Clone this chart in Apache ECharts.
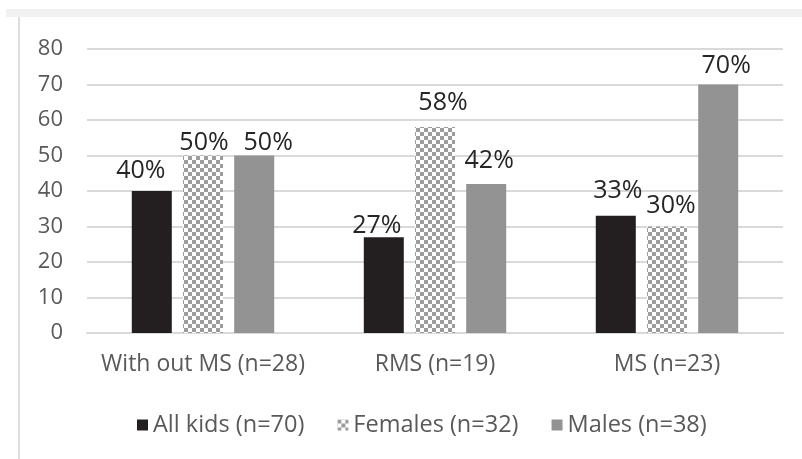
<!DOCTYPE html>
<html>
<head>
<meta charset="utf-8">
<script src="https://cdn.jsdelivr.net/npm/echarts@6/dist/echarts.min.js"></script>
<style>
  html, body { margin: 0; padding: 0; background: #fff; }
  #chart { width: 802px; height: 459px; }
</style>
</head>
<body>
<div id="chart"></div>
<script>
// Groups along the x axis
const categories = ['With out MS (n=28)', 'RMS (n=19)', 'MS (n=23)'];
// Percent of each group
const allKids = [40, 27, 33];
const females = [50, 58, 30];
const males = [50, 42, 70];
const seriesNames = ['All kids (n=70)', 'Females (n=32)', 'Males (n=38)'];
const yTicks = { min: 0, max: 80, step: 10 };

// Hand-placed value labels: [dx, dy] nudges per bar so neighbours do not collide
const labelNudge = [
  [[-11, -8], [-7, 1], [2, -12]],
  [[1, 0], [8, -12], [4, -8]],
  [[14, 0], [3, -11], [8, -6]]
];

// Checkerboard fill for the Females bars
function checker() {
  const c = document.createElement('canvas');
  c.width = 8; c.height = 8;
  const g = c.getContext('2d');
  g.fillStyle = '#ffffff';
  g.fillRect(0, 0, 8, 8);
  g.fillStyle = '#9c9c9c';
  g.fillRect(0, 0, 4, 4);
  g.fillRect(4, 4, 4, 4);
  return { image: c, repeat: 'repeat' };
}

const FONT = '"Open Sans", sans-serif';
const baseLabel = {
  show: true,
  position: 'top',
  distance: 0,
  formatter: '{c}%',
  color: '#262626',
  fontSize: 25,
  fontFamily: FONT
};

function withLabels(values, s) {
  return values.map((v, i) => ({ value: v, label: { offset: labelNudge[s][i] } }));
}

const colors = ['#231f20', checker(), '#939393'];
const seriesValues = [allKids, females, males];

const chart = echarts.init(document.getElementById('chart'), null, { renderer: 'canvas' });
chart.setOption({
  backgroundColor: '#ffffff',
  animation: false,
  graphic: [
    { type: 'rect', shape: { x: 6, y: 9, width: 796, height: 8 }, style: { fill: '#f1f1f1' }, silent: true },
    { type: 'rect', shape: { x: 18, y: 17, width: 2, height: 442 }, style: { fill: '#dedede' }, silent: true }
  ],
  grid: { left: 87, right: 19, top: 49, bottom: 126 },
  legend: {
    bottom: 17,
    left: 132,
    itemWidth: 11,
    itemHeight: 11,
    itemGap: 33,
    icon: 'rect',
    textStyle: { color: '#595959', fontSize: 23.5, fontFamily: FONT },
    data: seriesNames
  },
  xAxis: {
    type: 'category',
    data: categories,
    axisLine: { show: true, lineStyle: { color: '#d9d9d9', width: 2 } },
    axisTick: { show: false },
    axisLabel: { color: '#595959', fontSize: 23, fontFamily: FONT, margin: 20, interval: 0 }
  },
  yAxis: {
    type: 'value',
    min: yTicks.min,
    max: yTicks.max,
    interval: yTicks.step,
    axisLine: { show: false },
    axisTick: { show: false },
    splitLine: { lineStyle: { color: '#d9d9d9', width: 2 } },
    axisLabel: { color: '#595959', fontSize: 22, fontFamily: FONT, margin: 24 }
  },
  series: seriesNames.map((name, s) => ({
    name,
    type: 'bar',
    data: withLabels(seriesValues[s], s),
    barWidth: 40,
    barGap: '28%',
    itemStyle: { color: colors[s] },
    label: baseLabel
  }))
});
</script>
</body>
</html>
